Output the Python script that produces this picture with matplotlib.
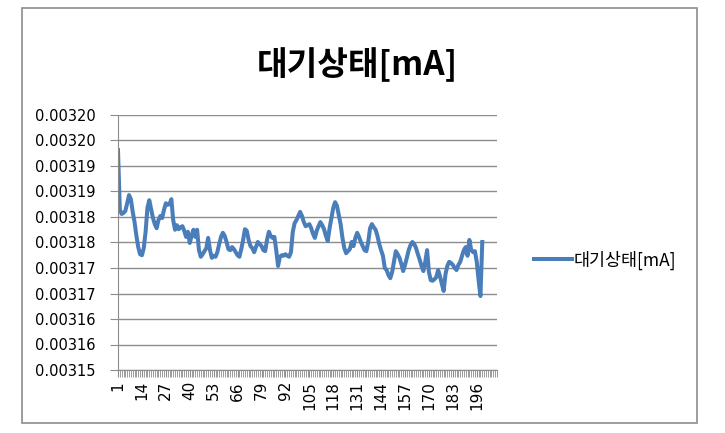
import matplotlib
matplotlib.use("Agg")
import matplotlib.pyplot as plt
import matplotlib.patches as patches
import numpy as np

plt.rcParams['font.family'] = ['Noto Sans CJK KR', 'DejaVu Sans']

title = "대기상태[mA]"
series_name = "대기상태[mA]"

# standby current readings in nA (converted to mA when drawn)
standby_nA = [
    3193.1, 3181.4, 3180.6, 3180.8, 3181.2, 3182.7, 3184.3, 3183.5, 3181.0, 3179.0,
    3176.3, 3174.1, 3172.7, 3172.5, 3173.9, 3177.1, 3181.8, 3183.3, 3181.6, 3179.8,
    3178.6, 3177.8, 3179.4, 3180.2, 3179.8, 3181.4, 3182.7, 3182.4, 3182.5, 3183.5,
    3179.4, 3177.5, 3178.4, 3177.6, 3178.0, 3178.2, 3177.3, 3176.1, 3177.1, 3174.9,
    3176.3, 3177.5, 3176.1, 3177.5, 3173.5, 3172.2, 3172.7, 3173.3, 3173.9, 3175.9,
    3173.5, 3172.0, 3172.4, 3172.2, 3173.1, 3174.7, 3176.1, 3176.9, 3176.3, 3175.1,
    3173.7, 3173.5, 3174.1, 3173.7, 3173.1, 3172.5, 3172.2, 3173.7, 3175.5, 3177.6,
    3177.3, 3175.5, 3174.3, 3173.9, 3173.1, 3174.1, 3175.1, 3174.7, 3174.3, 3173.5,
    3173.3, 3175.5, 3177.1, 3176.3, 3175.9, 3176.1, 3173.5, 3170.4, 3172.2, 3172.5,
    3172.4, 3172.7, 3172.4, 3172.2, 3173.1, 3177.1, 3178.8, 3179.4, 3180.2, 3181.0,
    3180.2, 3179.0, 3178.2, 3178.4, 3178.6, 3177.8, 3176.7, 3175.9, 3177.3, 3178.2,
    3179.0, 3178.4, 3177.6, 3176.3, 3175.3, 3177.8, 3179.8, 3181.8, 3182.9, 3182.2,
    3180.4, 3178.6, 3175.9, 3173.9, 3172.9, 3173.3, 3173.7, 3175.1, 3174.3, 3175.9,
    3176.9, 3176.1, 3175.1, 3174.3, 3173.5, 3173.3, 3175.1, 3177.8, 3178.6, 3178.0,
    3177.5, 3176.3, 3174.7, 3173.5, 3172.4, 3170.0, 3169.6, 3168.6, 3168.0, 3169.2,
    3171.2, 3173.3, 3172.7, 3172.0, 3170.8, 3169.4, 3170.6, 3172.0, 3173.5, 3174.5,
    3175.1, 3174.7, 3173.9, 3172.7, 3171.6, 3170.4, 3169.4, 3171.2, 3173.5, 3169.2,
    3167.6, 3167.5, 3167.8, 3168.2, 3169.6, 3168.4, 3166.9, 3165.5, 3168.8, 3170.4,
    3171.2, 3171.0, 3170.6, 3170.0, 3169.6, 3170.6, 3171.2, 3172.4, 3173.5, 3174.1,
    3172.4, 3175.5, 3173.5, 3173.1, 3173.3, 3171.2, 3167.6, 3164.5, 3175.1,
]

y_ticks = [0.003150, 0.003155, 0.003160, 0.003165, 0.003170, 0.003175,
           0.003180, 0.003185, 0.003190, 0.003195, 0.003200]
y_tick_labels = ["0.00315", "0.00316", "0.00316", "0.00317", "0.00317", "0.00318",
                 "0.00318", "0.00319", "0.00319", "0.00320", "0.00320"]
x_tick_labels = [1, 14, 27, 40, 53, 66, 79, 92, 105, 118, 131, 144, 157, 170, 183, 196]
n_categories = 207

values = np.array(standby_nA) / 1e6
x = np.arange(1, len(values) + 1)

fig = plt.figure(figsize=(7.25, 4.33), dpi=100)
ax = fig.add_axes([118/725, 1 - 370/433, (497-118)/725, (370-115)/433])

# chart area border
fig.patches.append(patches.Rectangle((22/725, 1 - 423/433), (697-22)/725, (423-8)/433,
                                     transform=fig.transFigure, fill=False,
                                     edgecolor='#8c8c8c', linewidth=1.2))

ax.plot(x, values, color='#4a7ebb', linewidth=2.9, label=series_name,
        solid_joinstyle='round')

ax.set_ylim(y_ticks[0], y_ticks[-1])
ax.set_yticks(y_ticks)
ax.set_yticklabels(y_tick_labels, fontsize=10.5, family='DejaVu Sans')
ax.grid(axis='y', color='#8c8c8c', linewidth=1.0)
ax.set_axisbelow(True)

ax.set_xlim(1, n_categories)
ax.set_xticks(x_tick_labels)
ax.set_xticklabels([str(t) for t in x_tick_labels], rotation=90, fontsize=11,
                   family='DejaVu Sans')
ax.set_xticks(np.arange(1, n_categories + 1), minor=True)
ax.tick_params(axis='x', which='major', length=5, color='#8c8c8c', pad=3)
ax.tick_params(axis='x', which='minor', length=5, color='#8c8c8c', width=0.6)
ax.tick_params(axis='y', length=6, color='#8c8c8c', pad=10)

for side in ['top', 'right']:
    ax.spines[side].set_visible(False)
for side in ['left', 'bottom']:
    ax.spines[side].set_color('#8c8c8c')

fig.text(357/725, 1 - 65/433, title, fontsize=24, fontweight='bold',
         ha='center', va='center')

fig.legend(loc='center left', bbox_to_anchor=(518/725, 1 - 260/433), frameon=False,
           fontsize=12.5, handlelength=2.2, handletextpad=0.1)

plt.savefig("out.png", dpi=100)
